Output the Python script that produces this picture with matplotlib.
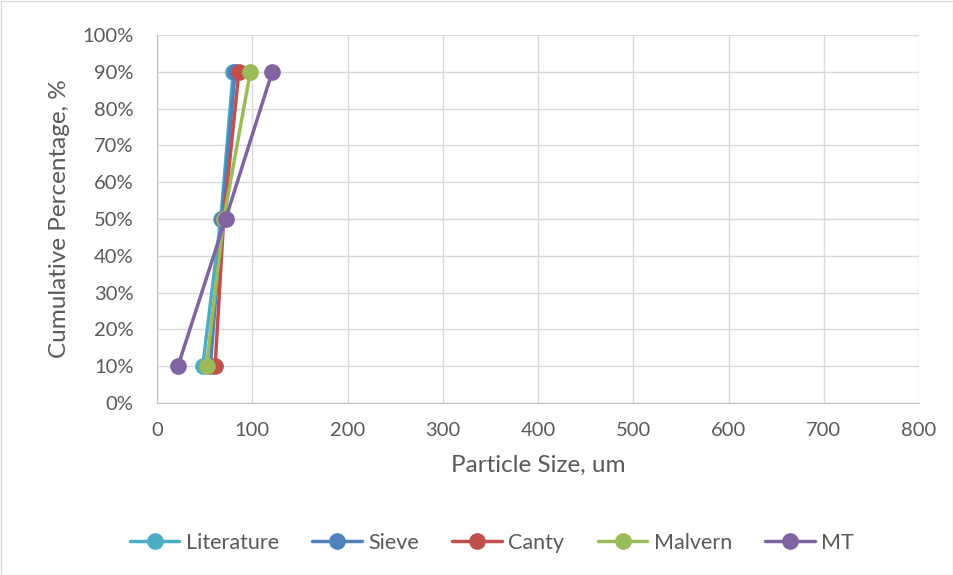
import matplotlib
matplotlib.use("Agg")
import matplotlib.pyplot as plt
from matplotlib.ticker import FuncFormatter, MultipleLocator

plt.rcParams['font.family'] = ['Lato', 'DejaVu Sans']

percent = [10, 50, 90]
literature = [48, 67, 80]
sieve = [56, 68, 82]
canty = [61, 70, 86]
malvern = [52, 70, 98]
mt = [22, 72, 121]

series = [
    ("Literature", literature, "#4bacc6"),
    ("Sieve", sieve, "#4f81bd"),
    ("Canty", canty, "#c0504d"),
    ("Malvern", malvern, "#9bbb59"),
    ("MT", mt, "#8064a2"),
]

fig = plt.figure(figsize=(9.54, 5.75), dpi=100)
ax = fig.add_axes([157/954, 1 - 403/575, (919-157)/954, (403-35)/575])

for name, xs, color in series:
    ax.plot(xs, percent, color=color, lw=2.5, marker='o', ms=11, label=name,
            solid_capstyle='round')

ax.set_xlim(0, 800)
ax.set_ylim(0, 100)
ax.xaxis.set_major_locator(MultipleLocator(100))
ax.yaxis.set_major_locator(MultipleLocator(10))
ax.yaxis.set_major_formatter(FuncFormatter(lambda v, p: f"{int(v)}%"))
ax.grid(True, color="#d9d9d9", lw=1)
ax.set_axisbelow(True)
for s in ['top', 'right']:
    ax.spines[s].set_visible(False)
for s in ['left', 'bottom']:
    ax.spines[s].set_color("#bfbfbf")
ax.tick_params(length=0, labelsize=14.5, colors="#595959")
ax.tick_params(axis='y', pad=17)
ax.tick_params(axis='x', pad=14)
ax.set_xlabel("Particle Size, um", fontsize=17.5, color="#595959", labelpad=11)
ax.set_ylabel("Cumulative Percentage, %", fontsize=17.5, color="#595959", labelpad=9)

ax.legend(loc='center', bbox_to_anchor=(492/954, 1 - 543/575), bbox_transform=fig.transFigure,
          ncol=5, frameon=False, fontsize=15.5, labelcolor="#595959",
          handlelength=2.3, columnspacing=1.55, handletextpad=0.3)

fig.patches.append(plt.Rectangle((0.5/954, 0.5/575), 1 - 1/954, 1 - 1/575, transform=fig.transFigure,
                                 fill=False, edgecolor="#d9d9d9", lw=1))
fig.savefig("out.png", dpi=100)
